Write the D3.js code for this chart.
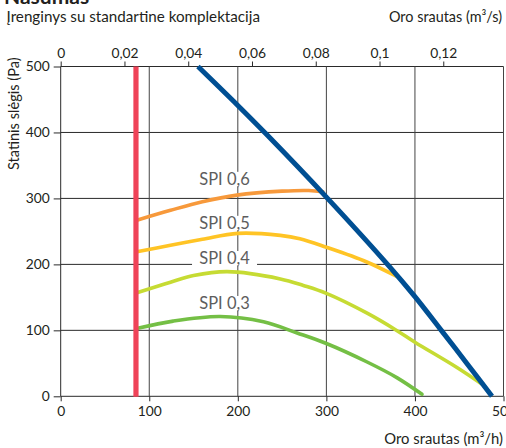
<!DOCTYPE html>
<html><head><meta charset="utf-8">
<script src="https://cdn.jsdelivr.net/npm/d3@7"></script>
<style>body{margin:0;background:#fff}svg{display:block;font-family:Lato,"Noto Sans",sans-serif}</style>
</head><body><svg id="c" width="506" height="448"></svg>
<script>
// ---- data ----
const title = "Našumas";
const subtitle = "Įrenginys su standartine komplektacija";
const topAxisTitle = "Oro srautas (m³/s)";
const bottomAxisTitle = "Oro srautas (m³/h)";
const yAxisTitle = "Statinis slėgis (Pa)";
const xTicks = [0, 100, 200, 300, 400, 500];
const xTicksTop = [0, 0.02, 0.04, 0.06, 0.08, 0.1, 0.12];
const yTicks = [0, 100, 200, 300, 400, 500];
const minFlow = 85; // m3/h, red limit line
const systemFlow = [155, 200, 234, 300, 371, 400, 428, 458, 487];
const systemPa   = [500, 441, 395, 302, 197, 151, 103, 51, 0];
const spiNames = ["SPI 0,6", "SPI 0,5", "SPI 0,4", "SPI 0,3"];
const spi06Flow = [86, 124, 160, 199, 250, 280, 296];
const spi06Pa   = [267, 282, 295, 305, 311, 312, 310];
const spi05Flow = [86, 124, 160, 200, 248, 270, 300, 345, 379];
const spi05Pa   = [219, 229, 238, 247, 244, 239, 226, 204, 182];
const spi04Flow = [86, 124, 150, 188, 248, 274, 300, 346, 378, 400, 447, 475];
const spi04Pa   = [157, 173, 183, 189, 178, 168, 156, 126, 101, 82, 44, 19];
const spi03Flow = [87, 127, 180, 229, 267, 300, 346, 380, 408];
const spi03Pa   = [103, 114, 121, 113, 96, 80, 52, 28, 3];

// ---- layout ----
const svg = d3.select("#c");
const x = d3.scaleLinear().domain([0, 500]).range([60.7, 503.5]);
const xTop = d3.scaleLinear().domain([0, 500 / 3600]).range([60.7, 503.5]);
const y = d3.scaleLinear().domain([0, 500]).range([396.3, 66.5]);
const ink = "#231f20";
const fmt = d => String(d).replace(".", ",");

// titles
svg.append("text").attr("x", 4).attr("y", 4).attr("font-size", 21).attr("font-weight", 700).attr("fill", ink).text(title);
svg.append("text").attr("x", 6.5).attr("y", 21.5).attr("font-size", 15.2).attr("fill", ink).text(subtitle);
svg.append("text").attr("x", 502).attr("y", 21.5).attr("text-anchor", "end").attr("font-size", 14.4).attr("fill", ink).text(topAxisTitle);
svg.append("text").attr("x", 503).attr("y", 444).attr("text-anchor", "end").attr("font-size", 14.8).attr("fill", ink).text(bottomAxisTitle);
svg.append("text").attr("transform", `translate(18.5,170) rotate(-90)`).attr("font-size", 14.6).attr("fill", ink).text(yAxisTitle);

// grid
const g = svg.append("g").attr("stroke", "#2a2a2a").attr("stroke-width", 1).attr("fill", "none");
g.selectAll(".h").data(yTicks).join("line")
  .attr("x1", x(0)).attr("x2", x(500)).attr("y1", d => y(d)).attr("y2", d => y(d));
g.selectAll(".v").data(xTicks).join("line")
  .attr("x1", d => x(d)).attr("x2", d => x(d)).attr("y1", y(500)).attr("y2", y(0))
  .attr("stroke", d => (d === 0 ? "#2a2a2a" : "#444"));

// axes
const axB = svg.append("g").attr("transform", `translate(0,${y(0)})`)
  .call(d3.axisBottom(x).tickValues(xTicks).tickSize(5).tickPadding(5).tickFormat(fmt));
const axT = svg.append("g").attr("transform", `translate(0,${y(500)})`)
  .call(d3.axisTop(xTop).tickValues(xTicksTop).tickSize(5).tickPadding(4).tickFormat(fmt));
const axL = svg.append("g").attr("transform", `translate(${x(0)},0)`)
  .call(d3.axisLeft(y).tickValues(yTicks).tickSize(7).tickPadding(4));
[axB, axT, axL].forEach(a => {
  a.select(".domain").remove();
  a.selectAll("line").attr("stroke", "#2a2a2a");
  a.selectAll("text").attr("fill", ink).attr("font-size", 13.8).attr("font-family", "Lato,'Noto Sans',sans-serif");
});

// SPI labels with white backgrounds
const labelPos = [[185, 320.6], [185, 253.9], [185, 200.6], [185, 132.4]];
spiNames.forEach((name, i) => {
  const cx = x(labelPos[i][0]), by = y(labelPos[i][1]);
  const bgPad = i === 2 ? 8 : 2;
  svg.append("rect").attr("x", cx - 24.5 - bgPad).attr("y", by - 13).attr("width", 49 + 2 * bgPad).attr("height", 14.5).attr("fill", "#fff");
  svg.append("text").attr("x", cx).attr("y", by).attr("text-anchor", "middle")
    .attr("font-size", 16.5).attr("fill", "#5d5d5d").text(name);
});

// curves
const line = d3.line().x(d => x(d[0])).y(d => y(d[1])).curve(d3.curveCatmullRom.alpha(0.5));
const series = [
  [spi06Flow, spi06Pa, "#f7993b"],
  [spi05Flow, spi05Pa, "#ffc425"],
  [spi04Flow, spi04Pa, "#c6db33"],
  [spi03Flow, spi03Pa, "#74bf45"]
];
series.forEach(([f, p, c]) => {
  svg.append("path").datum(d3.zip(f, p)).attr("d", line)
    .attr("fill", "none").attr("stroke", c).attr("stroke-width", 3.6).attr("stroke-linecap", "round");
});
svg.append("path").datum(d3.zip(systemFlow, systemPa)).attr("d", line)
  .attr("fill", "none").attr("stroke", "#004f93").attr("stroke-width", 5);
svg.append("line").attr("x1", x(minFlow)).attr("x2", x(minFlow)).attr("y1", y(500)).attr("y2", y(0) + 0.5)
  .attr("stroke", "#ef4358").attr("stroke-width", 5.2);
</script></body></html>
